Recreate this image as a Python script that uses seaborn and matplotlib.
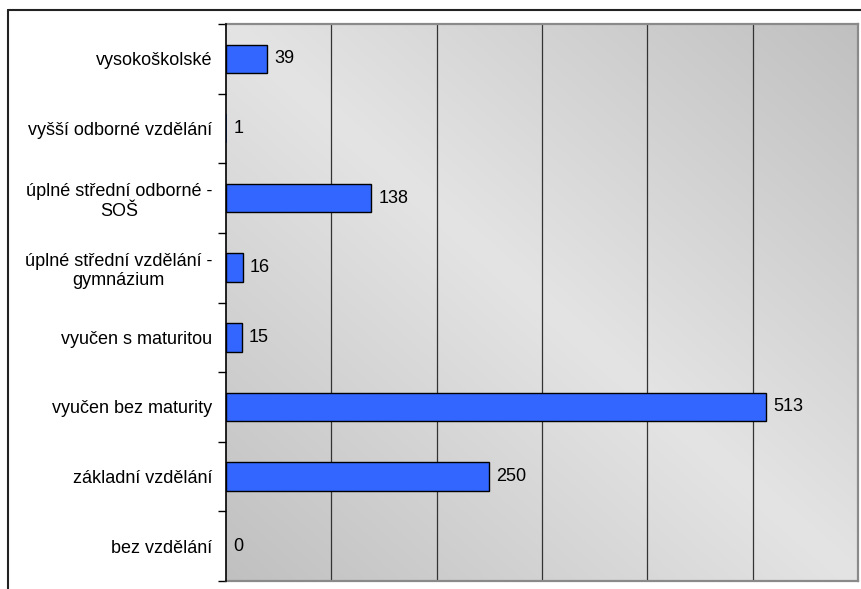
import numpy as np
import pandas as pd
import seaborn as sns
import matplotlib
matplotlib.use('Agg')
from matplotlib import pyplot as plt
from matplotlib.lines import Line2D

# data, top to bottom
categories = ['vysokoškolské', 'vyšší odborné vzdělání', 'úplné střední odborné -\nSOŠ',
              'úplné střední vzdělání -\ngymnázium', 'vyučen s maturitou',
              'vyučen bez maturity', 'základní vzdělání', 'bez vzdělání']
values = [39, 1, 138, 16, 15, 513, 250, 0]

df = pd.DataFrame({'kategorie': categories, 'pocet': values})

sns.set_style('white')
plt.rcParams['font.family'] = ['Liberation Sans', 'DejaVu Sans']
plt.rcParams['text.color'] = 'black'
plt.rcParams['ytick.color'] = 'black'

fig = plt.figure(figsize=(8.61, 5.89), dpi=100)
W, H = 861, 589
ax = fig.add_axes([226 / W, 1 - 581 / H, (858 - 226) / W, (581 - 24) / H])

sns.barplot(data=df, x='pocet', y='kategorie', orient='h', color='#3366ff',
            saturation=1, edgecolor='black', linewidth=1, width=0.41, ax=ax, zorder=3)
# tiny bars (1 unit) are not visible in the original
for p, v in zip(ax.containers[0], values):
    if v < 2:
        p.set_linewidth(0)

n = len(categories)
ax.set_xlim(0, 600)
ax.set_ylim(n - 0.5, -0.5)

# diagonal gradient background (excel style)
gx, gy = np.meshgrid(np.linspace(0, 1, 300), np.linspace(0, 1, 300))
d = np.abs(gx - gy)
grad = 228 - 36 * d
rgb = np.dstack([grad, grad, grad]) / 255.0
ax.imshow(rgb, extent=(0, 600, n - 0.5, -0.5), aspect='auto', zorder=0, interpolation='bilinear')

# gridlines
for gxv in range(100, 600, 100):
    ax.axvline(gxv, color='#333333', lw=0.9, zorder=1)

ax.bar_label(ax.containers[0], padding=5, fontsize=13, color='black')

ax.set_xlabel('')
ax.set_ylabel('')
ax.set_xticks([])
ax.set_yticks(range(n))
ax.set_yticklabels(categories, fontsize=13, multialignment='center')
ax.set_yticks(np.arange(-0.5, n, 1), minor=True)
ax.tick_params(axis='y', which='major', length=0, pad=10, labelcolor='black')
ax.tick_params(axis='y', which='minor', length=6, width=1, color='black', direction='out', left=True)

for s in ['top', 'right', 'bottom']:
    ax.spines[s].set_color('#8a8a8a')
    ax.spines[s].set_linewidth(1.6)
ax.spines['left'].set_color('black')
ax.spines['left'].set_linewidth(1.2)
ax.spines['left'].set_zorder(5)

# outer chart frame (cut off at right and bottom)
fig.add_artist(Line2D([8 / W, 1], [1 - 10 / H, 1 - 10 / H], color='#222222', lw=1.5, transform=fig.transFigure))
fig.add_artist(Line2D([8 / W, 8 / W], [1 - 10 / H, 0], color='#222222', lw=1.5, transform=fig.transFigure))

fig.savefig('out.png', dpi=100)
